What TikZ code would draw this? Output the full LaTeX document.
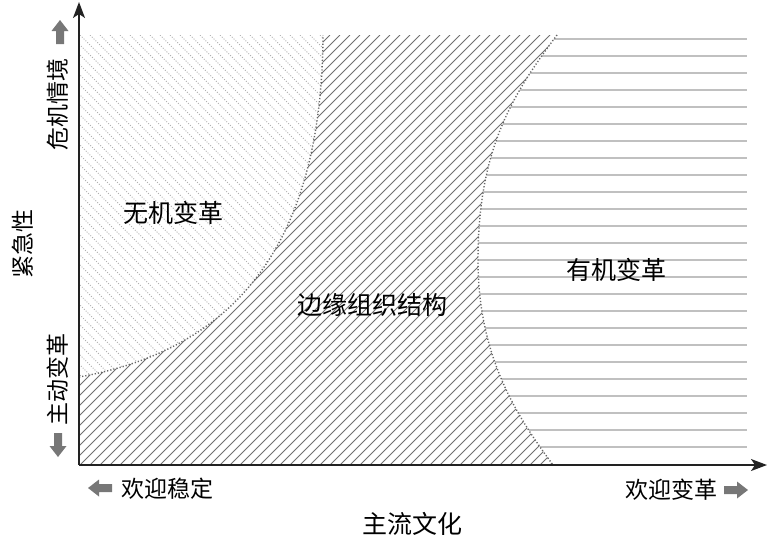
\documentclass[tikz,border=0pt]{standalone}
\usepackage{fontspec}
\setmainfont{Noto Sans CJK SC}
\usetikzlibrary{arrows.meta}
\definecolor{axisc}{HTML}{222222}
\definecolor{hatchc}{HTML}{707070}
\definecolor{dothatch}{HTML}{B0B0B0}
\definecolor{horizc}{HTML}{C0C0C0}
\definecolor{bordc}{HTML}{666666}
\definecolor{blockc}{HTML}{777777}
\tikzset{
  axisline/.style={draw=axisc,line width=1.5pt,-{Stealth[length=16pt,width=12pt,inset=4pt]}},
  boundary/.style={draw=bordc,line width=1.4pt,dash pattern=on 1.2pt off 2pt},
  midhatch/.style={draw=hatchc,line width=0.9pt},
  lefthatch/.style={draw=dothatch,line width=0.9pt,dash pattern=on 1pt off 1.6pt},
  horizline/.style={draw=horizc,line width=1.3pt},
  regionlabel/.style={font=\fontsize{25}{28}\selectfont,inner sep=0pt},
  axislabel/.style={font=\fontsize{23}{26}\selectfont,inner sep=0pt},
  blockarr/.pic={\fill[blockc] (-12,-4) -- (1,-4) -- (1,-8.5) -- (12,0) -- (1,8.5) -- (1,4) -- (-12,4) -- cycle;}
}
\begin{document}
\begin{tikzpicture}[x=1pt,y=-1pt]
\useasboundingbox (0,0) rectangle (768,558);
% named points
\coordinate (O) at (79,465);
\coordinate (ytop) at (79,2);
\coordinate (xend) at (767,465);
% left region hatch (dotted backslash)
\begin{scope}
\clip (79,35) -- (323,35) .. controls (322,250) and (230,350) .. (79,377) -- cycle;
\foreach \x in {-420,-410,...,330} {
  \draw[lefthatch] (\x,35) -- (\x+440,475);
}
\end{scope}
% middle region hatch (solid slash)
\begin{scope}
\clip (79,465) -- (79,377) .. controls (230,350) and (322,250) .. (323,35) -- (557,35) .. controls (512,95) and (478,150) .. (478,260) .. controls (478,360) and (520,420) .. (553,465) -- cycle;
\foreach \x in {-400,-390,...,570} {
  \draw[midhatch] (\x,475) -- (\x+440,35);
}
\end{scope}
% right region horizontal lines
\begin{scope}
\clip (557,35) -- (747,35) -- (747,465) -- (553,465) .. controls (520,420) and (478,360) .. (478,260) .. controls (478,150) and (512,95) .. (557,35) -- cycle;
\foreach \k in {0,...,24} {
  \draw[horizline] (470,39+17*\k) -- (747,39+17*\k);
}
\end{scope}
% boundaries
\draw[boundary] (79,377) .. controls (230,350) and (322,250) .. (323,35);
\draw[boundary] (557,35) .. controls (512,95) and (478,150) .. (478,260) .. controls (478,360) and (520,420) .. (553,465);
% axes
\draw[axisline] (O) -- (ytop);
\draw[axisline] (O) -- (xend);
% region labels
\node[regionlabel] (wuji) at (173,213) {无机变革};
\node[regionlabel] (bianyuan) at (372,305) {边缘组织结构};
\node[regionlabel] (youji) at (616,270) {有机变革};
% axis labels
\node[axislabel,rotate=90] (jinji) at (23,244) {紧急性};
\node[axislabel,rotate=90] (weiji) at (58,104) {危机情境};
\node[axislabel,rotate=90] (zhudong) at (58,379) {主动变革};
\node[axislabel] (wending) at (167,489) {欢迎稳定};
\node[axislabel] (biange) at (671,490) {欢迎变革};
\node[regionlabel] (zhuliu) at (412,524) {主流文化};
% block arrows
\pic[rotate=90] (uparr) at (60,32) {blockarr};
\pic[rotate=-90] (downarr) at (58,445) {blockarr};
\pic[rotate=180] (leftarr) at (100,488) {blockarr};
\pic (rightarr) at (736,490) {blockarr};
\end{tikzpicture}
\end{document}
